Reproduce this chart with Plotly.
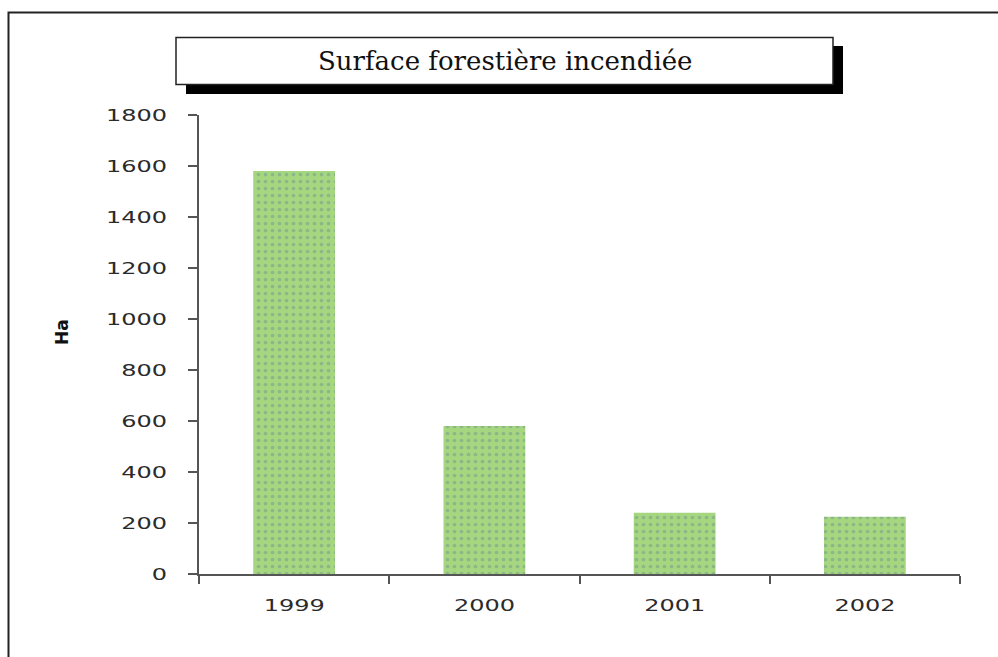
import plotly.graph_objects as go

# Burned forest area per year (hectares)
years = ["1999", "2000", "2001", "2002"]
burned_ha = [1580, 580, 240, 225]
y_ticks = [0, 200, 400, 600, 800, 1000, 1200, 1400, 1600, 1800]

W, H = 998, 657
ML, MR, MT, MB = 199, 38, 115, 83
PW, PH = W - ML - MR, H - MT - MB


def px(x):
    return (x - ML) / PW


def py(y):
    return (H - MB - y) / PH


fig = go.Figure(
    go.Bar(
        x=years,
        y=burned_ha,
        marker=dict(
            color="#a6d680",
            line=dict(width=0),
            pattern=dict(shape=".", fgcolor="#6e9c8c", bgcolor="#a6d680",
                         size=7, solidity=0.22),
        ),
        hoverinfo="x+y",
    )
)

tick_font = dict(family="DejaVu Sans, Arial, sans-serif", size=16, color="#2a2a2a")

fig.update_layout(
    width=W,
    height=H,
    margin=dict(l=ML, r=MR, t=MT, b=MB),
    paper_bgcolor="white",
    plot_bgcolor="white",
    showlegend=False,
    bargap=0.57,
    xaxis=dict(
        type="category",
        showline=True,
        linecolor="#555",
        linewidth=1.5,
        ticks="outside",
        tickson="boundaries",
        ticklen=8,
        tickcolor="#555",
        tickwidth=1.5,
        showgrid=False,
        tickfont=tick_font,
        ticklabelstandoff=16,
    ),
    yaxis=dict(
        range=[0, 1800],
        tickvals=y_ticks,
        showline=True,
        linecolor="#555",
        linewidth=1.5,
        ticks="outside",
        ticklen=9,
        tickcolor="#555",
        tickwidth=1.5,
        showgrid=False,
        zeroline=False,
        tickfont=tick_font,
        ticklabelstandoff=18,
    ),
    shapes=[
        # outer frame (runs off the right and bottom edges)
        dict(type="rect", xref="paper", yref="paper",
             x0=px(8.5), x1=px(1015), y0=py(12.5), y1=py(680),
             line=dict(color="#222", width=2), fillcolor="rgba(0,0,0,0)", layer="below"),
        # title box shadow
        dict(type="rect", xref="paper", yref="paper",
             x0=px(186), x1=px(843), y0=py(46), y1=py(94),
             line=dict(width=0), fillcolor="black"),
        # title box
        dict(type="rect", xref="paper", yref="paper",
             x0=px(176), x1=px(833), y0=py(37.5), y1=py(84.5),
             line=dict(color="#222", width=1.5), fillcolor="white"),
    ],
    annotations=[
        dict(text="Surface forestière incendiée", xref="paper", yref="paper",
             x=px(504.5), y=py(61), xanchor="center", yanchor="middle",
             showarrow=False,
             font=dict(family="DejaVu Serif, serif", size=26, color="#111")),
        dict(text="<b>Ha</b>", xref="paper", yref="paper",
             x=px(62), y=py(332), xanchor="center", yanchor="middle",
             textangle=-90, showarrow=False,
             font=dict(family="DejaVu Sans, Arial, sans-serif", size=17, color="#111")),
    ],
)

# stretch the tick labels horizontally around their anchor, reapplied after every redraw
stretch_js = """
var gd = document.getElementById('{plot_id}');
function stretchTicks() {
  gd.querySelectorAll('.xtick text, .ytick text').forEach(function (t) {
    var tr = t.getAttribute('transform') || '';
    if (tr.indexOf('scale(') !== -1) return;
    var ax = parseFloat(t.getAttribute('x') || '0');
    t.setAttribute('transform',
      tr + ' translate(' + ax + ',0) scale(1.5,1) translate(' + (-ax) + ',0)');
  });
}
stretchTicks();
gd.on('plotly_afterplot', stretchTicks);
"""

fig.write_html("out.html", post_script=stretch_js)
